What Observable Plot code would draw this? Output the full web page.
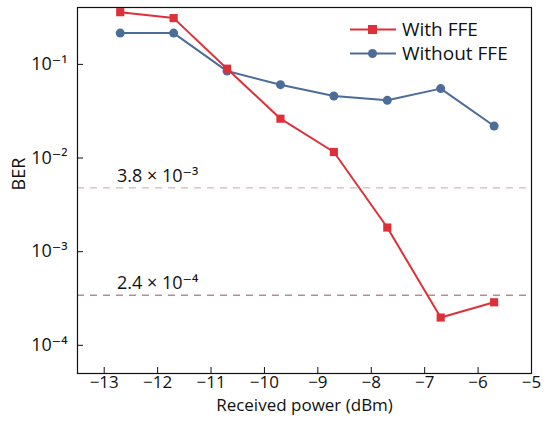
<!DOCTYPE html>
<html>
<head>
<meta charset="utf-8">
<script src="https://cdn.jsdelivr.net/npm/d3@7"></script>
<script src="https://cdn.jsdelivr.net/npm/@observablehq/plot@0.6"></script>
<style>
  body { margin: 0; background: #fff; }
  #wrap { position: relative; width: 550px; height: 421px; font-family: "Open Sans", "DejaVu Sans", sans-serif; }
  #legend { position: absolute; left: 350px; top: 17px; font-size: 19px; color: #111; line-height: 24px; }
  #legend div { display: flex; align-items: center; height: 24px; }
  #legend svg { margin-right: 6px; }
</style>
</head>
<body>
<div id="wrap"></div>
<script>
// Data
const power = [-12.7, -11.7, -10.7, -9.7, -8.7, -7.7, -6.7, -5.7];
const berWithFFE = [0.361, 0.312, 0.090, 0.0263, 0.0116, 0.00181, 0.000198, 0.000288];
const berWithoutFFE = [0.216, 0.216, 0.0848, 0.0607, 0.0459, 0.0413, 0.0551, 0.0220];
const seriesNames = ["With FFE", "Without FFE"];
const seriesColors = ["#de3039", "#4d6d99"];
const thresholdValues = [4.8e-3, 3.43e-4];
const thresholdLabels = ["3.8 × 10⁻³", "2.4 × 10⁻⁴"];
const thresholdColors = ["#cfa3ab", "#98525c"];
const xTicks = [-13, -12, -11, -10, -9, -8, -7, -6, -5];
const yTicks = [1e-1, 1e-2, 1e-3, 1e-4];
const xLabel = "Received power (dBm)";
const yLabel = "BER";

const sup = {"-": "⁻", "0": "⁰", "1": "¹", "2": "²", "3": "³", "4": "⁴", "5": "⁵", "6": "⁶", "7": "⁷", "8": "⁸", "9": "⁹"};
const pow10 = d => "10" + String(Math.round(Math.log10(d))).split("").map(c => sup[c]).join("");

const withRows = power.map((x, i) => ({x, y: berWithFFE[i]}));
const withoutRows = power.map((x, i) => ({x, y: berWithoutFFE[i]}));
const thrRows = thresholdValues.map((v, i) => ({v, label: thresholdLabels[i], color: thresholdColors[i]}));

const chart = Plot.plot({
  width: 550,
  height: 421,
  marginTop: 7,
  marginBottom: 48,
  marginLeft: 77,
  marginRight: 19,
  style: {fontFamily: '"Open Sans", "DejaVu Sans", sans-serif', fontSize: "18px", color: "#111", background: "#fff"},
  x: {domain: [-13.5, -5]},
  y: {type: "log", domain: [5.0e-5, 0.405]},
  marks: [
    Plot.ruleY(thrRows, {y: "v", stroke: "color", strokeWidth: 1, strokeDasharray: "7,6"}),
    Plot.text(thrRows, {y: "v", x: () => -12.76, text: "label", textAnchor: "start", dy: -12, fontSize: 18, fill: "#111"}),
    Plot.line(withoutRows, {x: "x", y: "y", stroke: seriesColors[1], strokeWidth: 2}),
    Plot.dot(withoutRows, {x: "x", y: "y", fill: seriesColors[1], r: 4.5, symbol: "circle"}),
    Plot.line(withRows, {x: "x", y: "y", stroke: seriesColors[0], strokeWidth: 2}),
    Plot.dot(withRows, {x: "x", y: "y", fill: seriesColors[0], r: 4.6, symbol: "square"}),
    Plot.frame({stroke: "#111", strokeWidth: 1.2}),
    Plot.axisX({ticks: xTicks, tickSize: -6, tickPadding: 8, label: null, fontSize: 17, tickFormat: d => d < 0 ? "−" + Math.abs(d) : String(d)}),
    Plot.axisY({ticks: yTicks, tickSize: -6, tickPadding: 16, label: null, tickFormat: pow10}),
    Plot.text([xLabel], {frameAnchor: "bottom", text: d => d, dy: 37, fontSize: 17}),
    Plot.text([yLabel], {frameAnchor: "left", text: d => d, dx: -58, rotate: -90, fontSize: 18})
  ]
});
const wrap = document.getElementById("wrap");
wrap.appendChild(chart);

const legend = document.createElement("div");
legend.id = "legend";
seriesNames.forEach((name, i) => {
  const row = document.createElement("div");
  const marker = i === 0
    ? `<rect x="18" y="8" width="9" height="9" fill="${seriesColors[i]}"/>`
    : `<circle cx="22.5" cy="12.5" r="4.5" fill="${seriesColors[i]}"/>`;
  row.innerHTML = `<svg width="46" height="25"><line x1="0" x2="46" y1="12.5" y2="12.5" stroke="${seriesColors[i]}" stroke-width="2"/>${marker}</svg><span>${name}</span>`;
  legend.appendChild(row);
});
wrap.appendChild(legend);
</script>
</body>
</html>
